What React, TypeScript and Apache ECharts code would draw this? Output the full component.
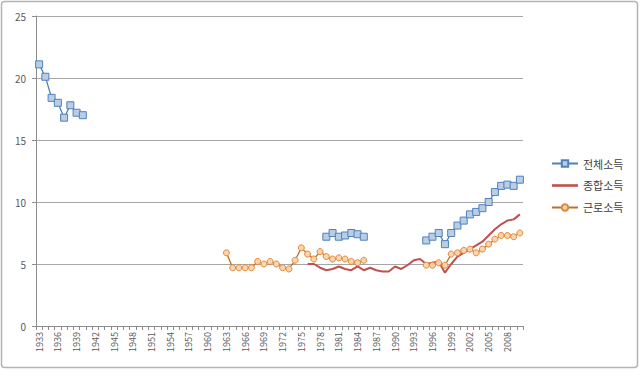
import React, { useEffect, useRef } from "react";
import * as echarts from "echarts";

const firstYear = 1933;
const lastYear = 2010;
const years: string[] = [];
for (let y = firstYear; y <= lastYear; y++) years.push(String(y));

const seriesNames = ["전체소득", "종합소득", "근로소득"];

// 전체소득 (total income) segments
const totalA = [21.1, 20.1, 18.4, 18.0, 16.8, 17.8, 17.2, 17.0]; // 1933-1940
const totalB = [7.2, 7.5, 7.2, 7.3, 7.5, 7.4, 7.2]; // 1979-1985
const totalC = [6.9, 7.2, 7.5, 6.6, 7.5, 8.1, 8.5, 9.0, 9.2, 9.5, 10.0, 10.8, 11.3, 11.4, 11.3, 11.8]; // 1995-2010

// 종합소득 (comprehensive income) 1976-2010
const comprehensive = [
  5.0, 5.0, 4.7, 4.5, 4.6, 4.8, 4.6, 4.5, 4.8, 4.5,
  4.7, 4.5, 4.4, 4.4, 4.8, 4.6, 4.9, 5.3, 5.4,
  5.0, 5.1, 5.2, 4.3, 5.0, 5.6, 5.9, 6.2, 6.5, 6.8, 7.3, 7.8, 8.2, 8.5, 8.6, 9.0,
];

// 근로소득 (wage income) segments
const wageA = [5.9, 4.7, 4.7, 4.7, 4.7, 5.2, 5.0, 5.2, 5.0, 4.7, 4.6, 5.3, 6.3, 5.8, 5.4, 6.0, 5.6, 5.4, 5.5, 5.4, 5.2, 5.1, 5.3]; // 1963-1985
const wageB = [4.9, 4.9, 5.1, 4.9, 5.8, 5.9, 6.1, 6.2, 5.9, 6.2, 6.6, 7.0, 7.3, 7.3, 7.2, 7.5]; // 1995-2010

const yTicks = [0, 5, 10, 15, 20, 25];

function place(target: (number | null)[], start: number, values: number[]) {
  values.forEach((v, i) => {
    target[start - firstYear + i] = v;
  });
  return target;
}

function empty(): (number | null)[] {
  return years.map(() => null);
}

const totalData = place(place(place(empty(), 1933, totalA), 1979, totalB), 1995, totalC);
const compData = place(empty(), 1976, comprehensive);
const wageData = place(place(empty(), 1963, wageA), 1995, wageB);

export default function App() {
  const ref = useRef<HTMLDivElement>(null);
  useEffect(() => {
    document.body.style.margin = "0";
    const chart = echarts.init(ref.current!, null, { renderer: "svg" });
    const font = "'Noto Sans CJK KR', 'Noto Sans', sans-serif";
    chart.setOption({
      animation: false,
      backgroundColor: "#ffffff",
      textStyle: { fontFamily: font },
      graphic: [
        {
          type: "rect",
          shape: { x: 1.5, y: 1.5, width: 636, height: 366, r: 3 },
          style: { fill: "none", stroke: "#b4b4b4", lineWidth: 1.5 },
          silent: true,
        },
      ],
      grid: { left: 36, right: 117, top: 16, bottom: 53 },
      legend: {
        orient: "vertical",
        left: 546,
        top: 153,
        itemWidth: 26,
        itemHeight: 8,
        itemGap: 11,
        data: [
          { name: seriesNames[0] },
          { name: seriesNames[1], icon: "path://M0,0L10,0L10,1L0,1Z" },
          { name: seriesNames[2] },
        ],
        textStyle: { fontSize: 11, color: "#404040", fontFamily: font },
      },
      xAxis: {
        type: "category",
        data: years,
        boundaryGap: true,
        axisLine: { lineStyle: { color: "#8c8c8c" } },
        axisTick: { show: true, interval: 0, length: 4, lineStyle: { color: "#8c8c8c" } },
        axisLabel: {
          interval: 2,
          rotate: 90,
          fontSize: 9,
          color: "#595959",
          margin: 6,
          fontFamily: font,
        },
      },
      yAxis: {
        type: "value",
        min: yTicks[0],
        max: yTicks[yTicks.length - 1],
        interval: 5,
        axisLine: { show: true, lineStyle: { color: "#8c8c8c" } },
        axisTick: { show: true, length: 4, lineStyle: { color: "#8c8c8c" } },
        splitLine: { lineStyle: { color: "#a6a6a6", width: 1.2 } },
        axisLabel: { fontSize: 10, color: "#595959", margin: 10, fontFamily: font },
      },
      series: [
        {
          name: seriesNames[0],
          type: "line",
          data: totalData,
          connectNulls: false,
          symbol: "rect",
          symbolSize: 7,
          showSymbol: true,
          showAllSymbol: true,
          lineStyle: { color: "#4f81bd", width: 1.3 },
          itemStyle: { color: "#b9cde5", borderColor: "#4f81bd", borderWidth: 1 },
        },
        {
          name: seriesNames[1],
          type: "line",
          data: compData,
          connectNulls: false,
          symbol: "none",
          lineStyle: { color: "#c0504d", width: 2 },
          itemStyle: { color: "#c0504d" },
        },
        {
          name: seriesNames[2],
          type: "line",
          data: wageData,
          connectNulls: false,
          symbol: "circle",
          symbolSize: 6,
          showSymbol: true,
          showAllSymbol: true,
          lineStyle: { color: "#b8702a", width: 1.3 },
          itemStyle: { color: "#fbd4ac", borderColor: "#e0883a", borderWidth: 1 },
        },
      ],
    });
    return () => chart.dispose();
  }, []);
  return <div ref={ref} style={{ width: 640, height: 379 }} />;
}
